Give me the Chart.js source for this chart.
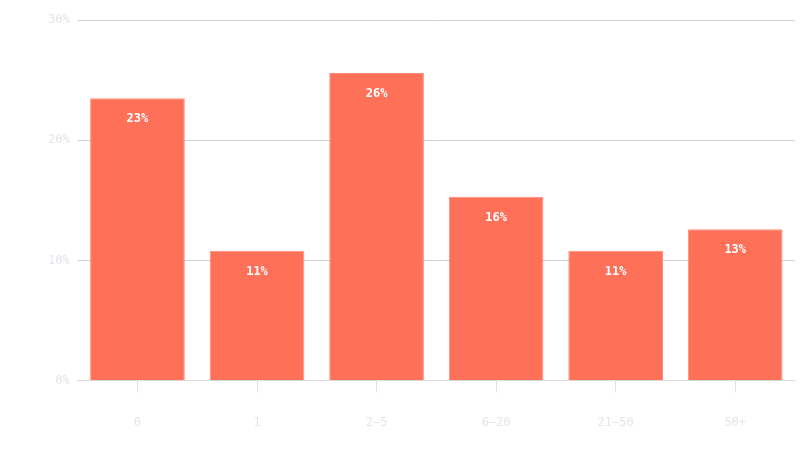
<!DOCTYPE html>
<html>
<head>
<meta charset="utf-8">
<script src="https://cdn.jsdelivr.net/npm/chart.js@4/dist/chart.umd.min.js"></script>
<style>
  html, body { margin: 0; padding: 0; background: #fff; }
  #wrap { width: 800px; height: 460px; }
</style>
</head>
<body>
<div id="wrap"><canvas id="myChart"></canvas></div>
<script>
// data
const categories = ['0', '1', '2–5', '6–20', '21–50', '50+'];
const shares = [23.5, 10.8, 25.6, 15.3, 10.8, 12.6];
// labels printed on the bars (as shown in the source)
const shareLabels = ['23%', '11%', '26%', '16%', '11%', '13%'];
const yTicks = [0, 10, 20, 30];

const monoFont = "'DejaVu Sans Mono', 'Liberation Mono', monospace";

// value labels inside top of each bar
const barLabels = {
  id: 'barLabels',
  afterDatasetsDraw(chart) {
    const ctx = chart.ctx
    const meta = chart.getDatasetMeta(0)
    ctx.save()
    ctx.fillStyle = '#ffffff'
    ctx.font = 'bold 12px ' + monoFont
    ctx.textAlign = 'center'
    ctx.textBaseline = 'middle'
    meta.data.forEach((bar, i) => {
      ctx.fillText(shareLabels[i], bar.x, bar.y + 21)
    })
    ctx.restore()
  }
}

const data = {
  labels: categories,
  datasets: [{
    data: shares,
    backgroundColor: '#ff7059',
    borderColor: '#ff8c78',
    borderWidth: 1,
    categoryPercentage: 0.8,
    barPercentage: 0.99
  }]
};

const config = {
  type: 'bar',
  data: data,
  options: {
    responsive: true,
    maintainAspectRatio: false,
    animation: false,
    layout: { padding: { top: 20, right: 5, bottom: 7, left: 40 } },
    plugins: {
      legend: { display: false },
      tooltip: { enabled: false }
    },
    scales: {
      x: {
        grid: {
          offset: false,
          drawOnChartArea: false,
          drawTicks: true,
          tickLength: 12,
          color: '#e2e2e6'
        },
        border: { color: '#dcdce0' },
        ticks: {
          color: '#e4e4ea',
          font: { family: monoFont, size: 12 },
          padding: 23
        }
      },
      y: {
        min: 0,
        max: 30,
        afterBuildTicks: (axis) => { axis.ticks = yTicks.map(v => ({ value: v })) },
        grid: {
          color: '#d0d0d4',
          drawTicks: false
        },
        border: { display: false },
        ticks: {
          color: '#e4e4ea',
          font: { family: monoFont, size: 12 },
          padding: 8,
          callback: (v) => v + '%'
        }
      }
    }
  },
  plugins: [barLabels]
};

new Chart(document.getElementById('myChart'), config);
</script>
</body>
</html>
